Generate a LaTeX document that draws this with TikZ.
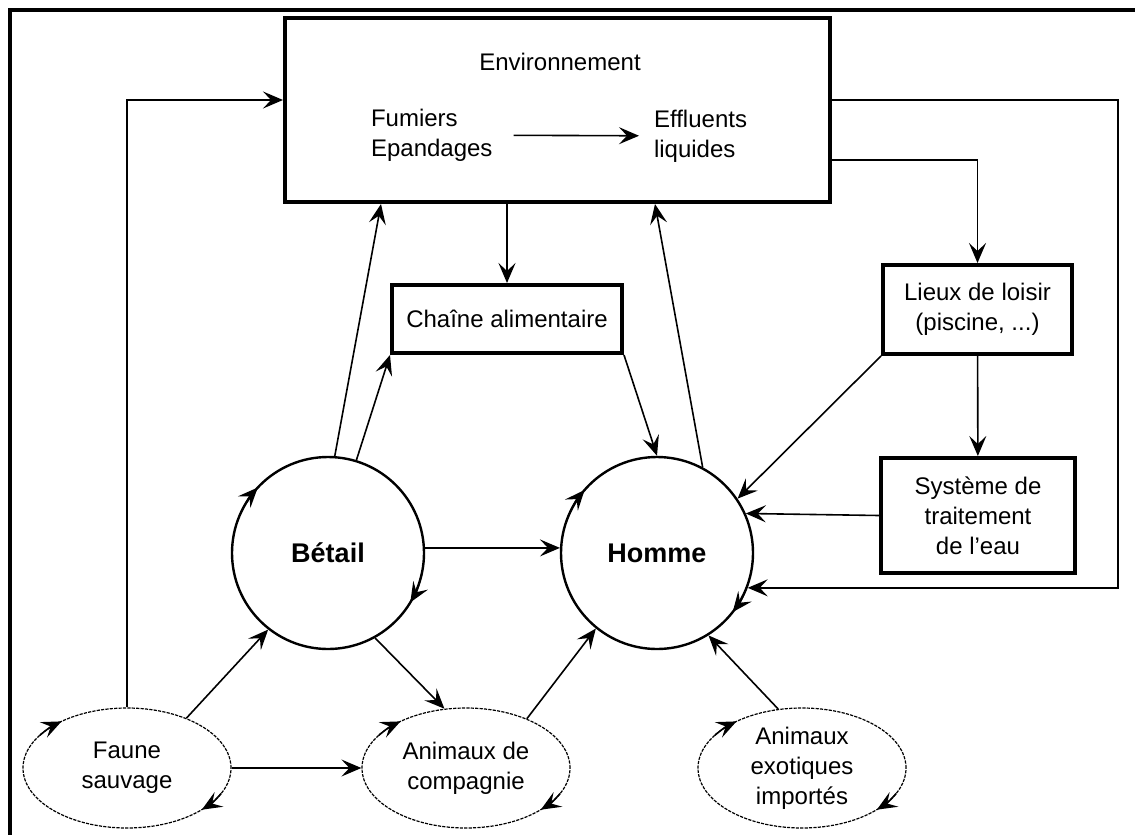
\documentclass[tikz,border=0pt]{standalone}
\usepackage{fontspec}
\setmainfont{Liberation Sans}
\usetikzlibrary{arrows.meta,shapes.geometric}

\tikzstyle{box} = [rectangle,draw,line width=2pt,inner sep=0pt,align=center]
\tikzstyle{pop} = [circle,draw,line width=1.2pt,minimum size=96pt,inner sep=0pt,font=\fontsize{13.5}{16}\selectfont\bfseries]
\tikzstyle{grp} = [ellipse,draw,line width=.6pt,dash pattern=on 1.6pt off .6pt,minimum width=104pt,minimum height=60pt,inner sep=0pt,align=center]
\tikzstyle{flow} = [-{Stealth[length=10pt,width=8.5pt,inset=4pt]},line width=.8pt]

\begin{document}
\begin{tikzpicture}[x=.5pt,y=-.5pt,font=\fontsize{12}{15}\selectfont]
\useasboundingbox (0,0) rectangle (1135,835);

% frame
\draw[line width=2pt] (10,835) -- (10,10) -- (1135,10);

% boxes
\node[box,minimum width=272.5pt,minimum height=92pt] (env) at (557.5,110) {};
\node (envt) at (560,62) {Environnement};
\node[align=left,anchor=west] (fum) at (364,135) {Fumiers\\Epandages};
\node[align=left,anchor=west] (eff) at (647,136) {Effluents\\liquides};
\node[box,minimum width=115pt,minimum height=34pt] (chaine) at (507,319) {Chaîne alimentaire};
\node[box,minimum width=94.5pt,minimum height=44.5pt] (lieux) at (977.5,309.5) {Lieux de loisir\\(piscine, ...)};
\node[box,minimum width=97pt,minimum height=57.5pt] (sys) at (978,515.5) {Système de\\traitement\\de l'eau};

% populations
\node[pop] (bet) at (328,553) {Bétail};
\node[pop] (hom) at (657,553) {Homme};
\node[grp] (fs) at (127,768) {Faune\\sauvage};
\node[grp] (comp) at (466,768) {Animaux de\\compagnie};
\node[grp] (exo) at (802,768) {Animaux\\exotiques\\importés};
\coordinate (rloop) at (1118,100);

% cycles
\foreach \p/\a/\b/\c/\d in {bet/157/137/-11/-31,hom/159/139/-18/-38} {
    \draw[flow] (\p.center) ++(\a:48pt) arc[start angle=\a,end angle=\b,radius=48pt];
    \draw[flow] (\p.center) ++(\c:48pt) arc[start angle=\c,end angle=\d,radius=48pt];
}
\foreach \g in {fs,comp,exo} {
    \draw[flow] (\g.center) ++(147:52pt and 30pt) arc[start angle=147,end angle=129,x radius=52pt,y radius=30pt];
    \draw[flow] (\g.center) ++(-25:52pt and 30pt) arc[start angle=-25,end angle=-44,x radius=52pt,y radius=30pt];
}

% edges
\draw[flow,shorten <=7pt,shorten >=4pt] (fum) -- (eff);
\draw[flow] (env.south -| chaine.north) -- (chaine.north);
\draw[flow] (bet.86) -- ([xshift=49pt]env.south west);
\draw[flow] (bet.73) -- (chaine.south west);
\draw[flow] (chaine.south east) -- (hom.north);
\draw[flow] (hom.62) -- ([xshift=186pt]env.south west);
\draw[flow] ([yshift=-25pt]env.east) -| (lieux.north);
\draw[flow] ([yshift=5pt]env.east) -- (rloop) |- (hom.-21);
\draw[flow] (lieux) -- (sys);
\draw[flow] (lieux.south west) -- (hom.34);
\draw[flow] (sys.west) -- (hom.24);
\draw[flow] (bet.3) -- (hom.177);
\draw[flow] (fs.40) -- (bet.232);
\draw[flow] (fs) -- (comp);
\draw[flow] (fs.north) |- ([yshift=5pt]env.west);
\draw[flow] (bet.-61) -- (comp.110);
\draw[flow] (comp.39) -- (hom.231);
\draw[flow] (exo.112) -- (hom.-58);

\end{tikzpicture}
\end{document}
